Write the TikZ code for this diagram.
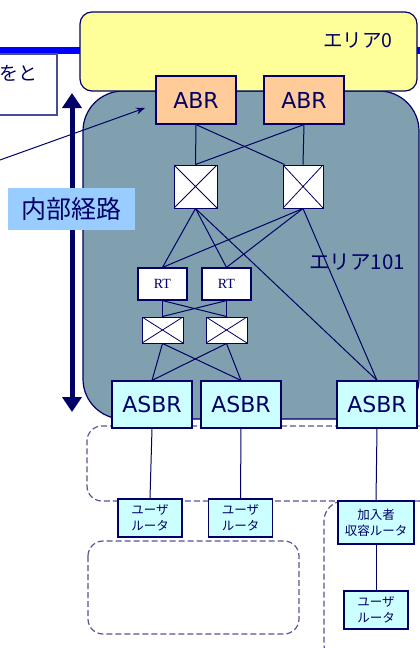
\documentclass[tikz,border=0pt]{standalone}
\usepackage{fontspec}
\setmainfont{DejaVu Sans}
\newfontfamily\jp{Noto Sans CJK JP}
\newfontfamily\serifrt{Liberation Serif}
\usetikzlibrary{arrows.meta}
\definecolor{navy}{RGB}{0,0,102}
\definecolor{areaY}{RGB}{255,255,153}
\definecolor{areaG}{RGB}{128,160,176}
\definecolor{peach}{RGB}{255,204,153}
\definecolor{lcyan}{RGB}{204,255,255}
\definecolor{lblue}{RGB}{153,204,255}
\definecolor{dashc}{RGB}{85,85,150}
\tikzset{
  conn/.style={draw=navy, line width=1pt},
  boxbase/.style={draw=navy, line width=1.2pt, inner sep=0pt, text=navy},
  abrbox/.style={boxbase, fill=peach, minimum width=80pt, minimum height=48pt, font=\fontsize{22}{26}\selectfont},
  asbrbox/.style={boxbase, fill=lcyan, minimum width=80pt, minimum height=47pt, font=\fontsize{22}{26}\selectfont},
  xbox/.style={boxbase, fill=white, line width=1pt, path picture={
     \draw[navy, line width=0.8pt] (path picture bounding box.north west) -- (path picture bounding box.south east)
        (path picture bounding box.north east) -- (path picture bounding box.south west);}},
  rtbox/.style={boxbase, fill=white, minimum width=49pt, minimum height=32pt, font=\serifrt\fontsize{14}{16}\selectfont},
  urbox/.style={boxbase, fill=lcyan, minimum width=64pt, minimum height=38pt, align=center, font=\jp\fontsize{12.5}{16.5}\selectfont},
  dashline/.style={draw=dashc, line width=1.2pt, dash pattern=on 6pt off 3pt},
  lbl/.style={text=navy, inner sep=0pt}
}
\begin{document}
\begin{tikzpicture}[x=1pt,y=-1pt]
\useasboundingbox (0,0) rectangle (420,648);
\clip (0,0) rectangle (420,648);
% blue line
\draw[blue, line width=7pt] (-10,50.5) -- (430,50.5);
% white text box
\node[draw=navy!70, line width=1.2pt, fill=white, minimum width=70pt, minimum height=61pt, inner sep=0pt] (wbox) at (22,84.5) {};
\node[lbl, anchor=east, font=\jp\fontsize{19}{21}\selectfont] (wtext) at (38,73) {をと};
% area 101
\draw[navy, line width=1.2pt, fill=areaG, rounded corners=40pt] (83,91) rectangle (419,419);
% area 0
\draw[navy, line width=1.2pt, fill=areaY, rounded corners=12pt] (80,12) rectangle (417,91);
\node[lbl, font=\jp\fontsize{19.5}{21}\selectfont] (a0) at (358,40) {エリア0};
\node[lbl, font=\jp\fontsize{20.5}{22}\selectfont] (a101) at (357,262) {エリア101};
% dashed regions
\draw[dashline, rounded corners=15pt] (440,426) -- (87,426) -- (87,501) -- (440,501);
\draw[dashline, rounded corners=15pt] (88,541) rectangle (299,634);
\draw[dashline, rounded corners=20pt] (440,501) -- (324,501) -- (324,665) -- (440,665);
% nodes
\node[abrbox] (abrL) at (196,100) {ABR};
\node[abrbox] (abrR) at (304,100) {ABR};
\node[xbox, minimum width=43pt, minimum height=43pt] (xU1) at (195.5,186.5) {};
\node[xbox, minimum width=40pt, minimum height=43pt] (xU2) at (303,186.5) {};
\node[rtbox] (rt1) at (162.5,284) {RT};
\node[rtbox] (rt2) at (226.5,284) {RT};
\node[xbox, minimum width=41pt, minimum height=26pt] (xL1) at (162.5,330) {};
\node[xbox, minimum width=41pt, minimum height=26pt] (xL2) at (226.5,330) {};
\node[asbrbox] (as1) at (152,404.5) {ASBR};
\node[asbrbox] (as2) at (241,404.5) {ASBR};
\node[asbrbox] (as3) at (377,404.5) {ASBR};
\node[urbox] (ur1) at (150,518) {ユーザ\\ルータ};
\node[urbox] (ur2) at (240.5,518) {ユーザ\\ルータ};
\node[urbox, minimum width=76pt, minimum height=43pt] (kan) at (376,522.5) {加入者\\収容ルータ};
\node[urbox] (ur3) at (376,610) {ユーザ\\ルータ};
% connectors
\draw[conn] (abrL.south) -- (xU1.north);
\draw[conn] (abrL.south) -- ([xshift=2pt]xU2.north west);
\draw[conn] (abrR.south) -- (xU2.north);
\draw[conn] (abrR.south) -- (xU1.north);
\draw[conn] (xU1.south) -- (rt1.north);
\draw[conn] (xU1.south) -- (rt2.north);
\draw[conn] (xU1.south) -- (as3.north);
\draw[conn] (xU2.south) -- (rt1.north);
\draw[conn] (xU2.south) -- (rt2.north);
\draw[conn] (xU2.south) -- (as3.north);
\draw[conn] (rt1.south) -- (xL1.north);
\draw[conn] (rt1.south) -- (xL2.north);
\draw[conn] (rt2.south) -- (xL1.north);
\draw[conn] (rt2.south) -- (xL2.north);
\draw[conn] (xL1.south) -- (as1.north);
\draw[conn] (xL1.south) -- (as2.north);
\draw[conn] (xL2.south) -- (as1.north);
\draw[conn] (xL2.south) -- (as2.north);
\draw[conn] (as1.south) -- (ur1.north);
\draw[conn] (as2.south) -- (ur2.north);
\draw[conn] (as3.south) -- (kan.north);
\draw[conn] (kan.south) -- (ur3.north);
% left arrows
\coordinate (arrTop) at (72,93);
\coordinate (arrBot) at (72,412);
\draw[navy, line width=5pt, {Triangle[width=19pt,length=15pt]}-{Triangle[width=19pt,length=15pt]}] (arrTop) -- (arrBot);
\node[fill=lblue, minimum width=127pt, minimum height=42pt, inner sep=0pt, text=navy, font=\jp\fontsize{25}{27}\selectfont] (naibu) at (71.5,209) {内部経路};
\coordinate (thinStart) at (0,160);
\coordinate (thinEnd) at (145,108);
\draw[navy, line width=1pt, -{Stealth[length=9pt,width=7pt]}] (thinStart) -- (thinEnd);
\end{tikzpicture}
\end{document}
